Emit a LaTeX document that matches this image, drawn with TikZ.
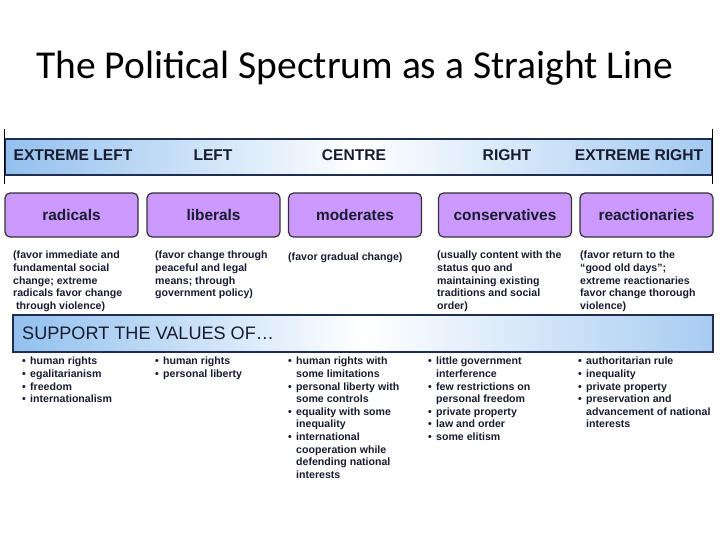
\documentclass[tikz,border=0pt]{standalone}
\usepackage{fontspec}
\setmainfont{Liberation Sans}
\newfontfamily\titlefont{Carlito}
\usetikzlibrary{positioning}
\definecolor{barblue}{RGB}{146,192,238}
\definecolor{boxpurple}{RGB}{204,153,255}
\definecolor{inkblue}{RGB}{24,28,48}
\definecolor{navyline}{RGB}{30,45,80}
\newcommand{\bul}{\makebox[8pt][l]{\textbullet}}
\newcommand{\cnt}{\hspace*{8pt}}
\tikzset{
  title_text/.style={anchor=west, inner sep=0pt, font=\titlefont\fontsize{39.5}{44}\selectfont},
  spectrum_bar/.style={rectangle, draw=navyline, line width=1.2pt, left color=barblue, right color=barblue!85, middle color=white, minimum width=707pt, minimum height=36pt, inner sep=0pt},
  end_tick/.style={-, line width=1.5pt, black},
  head_label/.style={text=inkblue, font=\bfseries\fontsize{15.6}{17}\selectfont},
  group_box/.style={rectangle, draw=black!80, fill=boxpurple, rounded corners=5pt, line width=1.2pt, minimum width=133pt, minimum height=44pt, inner sep=0pt, text=inkblue, font=\bfseries\fontsize{15.4}{17}\selectfont},
  desc_text/.style={anchor=north west, align=left, inner sep=0pt, text=inkblue, font=\bfseries\fontsize{10.6}{12.6}\selectfont},
  values_bar/.style={rectangle, draw=navyline, line width=2pt, left color=barblue, right color=barblue!80, middle color=white, minimum width=700pt, minimum height=37pt, inner sep=0pt},
  values_title/.style={anchor=west, inner sep=0pt, text=inkblue, font=\fontsize{18.1}{20}\selectfont},
  values_list/.style={anchor=north west, align=left, inner sep=0pt, text=inkblue, font=\bfseries\fontsize{10.6}{12.6}\selectfont}
}

\begin{document}
\begin{tikzpicture}[x=1pt, y=-1pt]
  \useasboundingbox (0,0) rectangle (720,540);

  % Title
  \node (title) [title_text] at (36,68) {The Political Spectrum as a Straight Line};

  % Spectrum line
  \node (spectrum) [spectrum_bar] at (358.5,157) {};
  \draw [end_tick] ([yshift=9pt]spectrum.north west) -- ([yshift=-8pt]spectrum.south west);
  \draw [end_tick] ([yshift=9pt]spectrum.north east) -- ([yshift=-8pt]spectrum.south east);

  \foreach \name/\x/\txt in {exl/73/EXTREME LEFT, lft/213/LEFT, ctr/354/CENTRE, rgt/507/RIGHT, exr/639/EXTREME RIGHT}
    \node (\name) [head_label] at (\x,155) {\txt};

  % Groups
  \foreach \name/\x in {radicals/71.5, liberals/213.5, moderates/355, conservatives/505, reactionaries/646.5}
    \node (\name) [group_box] at (\x,215) {\name};

  % Descriptions
  \node (d_rad) [desc_text] at (13,251) {(favor immediate and\\fundamental social\\change; extreme\\radicals favor change\\\hspace*{3pt}through violence)};
  \node (d_lib) [desc_text] at (155,251) {(favor change through\\peaceful and legal\\means; through\\government policy)};
  \node (d_mod) [desc_text] at (288,253) {(favor gradual change)};
  \node (d_con) [desc_text] at (437,251) {(usually content with the\\status quo and\\maintaining existing\\traditions and social\\order)};
  \node (d_rea) [desc_text] at (580,251) {(favor return to the\\``good old days'';\\extreme reactionaries\\favor change thorough\\violence)};

  % Values
  \node (values) [values_bar] at (363,333.5) {};
  \node (values_head) [values_title] at (22,333) {SUPPORT THE VALUES OF\dots};

  \node (v_rad) [values_list] at (22,357) {\bul human rights\\\bul egalitarianism\\\bul freedom\\\bul internationalism};
  \node (v_lib) [values_list] at (155,357) {\bul human rights\\\bul personal liberty};
  \node (v_mod) [values_list] at (288,357) {\bul human rights with\\\cnt some limitations\\\bul personal liberty with\\\cnt some controls\\\bul equality with some\\\cnt inequality\\\bul international\\\cnt cooperation while\\\cnt defending national\\\cnt interests};
  \node (v_con) [values_list] at (428,357) {\bul little government\\\cnt interference\\\bul few restrictions on\\\cnt personal freedom\\\bul private property\\\bul law and order\\\bul some elitism};
  \node (v_rea) [values_list] at (578,357) {\bul authoritarian rule\\\bul inequality\\\bul private property\\\bul preservation and\\\cnt advancement of national\\\cnt interests};
\end{tikzpicture}
\end{document}
